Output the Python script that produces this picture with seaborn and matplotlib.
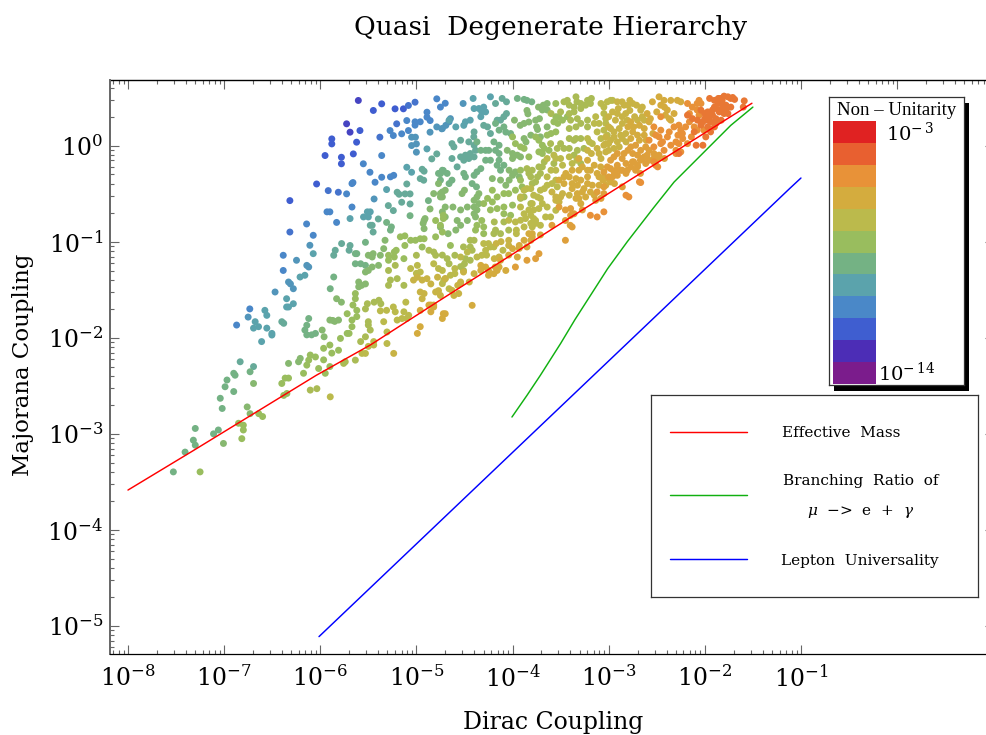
import numpy as np
import pandas as pd
import matplotlib
matplotlib.use("Agg")
import matplotlib.pyplot as plt
from matplotlib.colors import LinearSegmentedColormap
from matplotlib.patches import Rectangle
from matplotlib.ticker import LogLocator, NullFormatter, FixedLocator, FixedFormatter
import seaborn as sns

# ---- values: (log10 Dirac, log10 Majorana), grouped by non-unitarity colour level
nu_125 = [(-5.604,.469),(-5.726,.226),(-5.69,.139)]
nu_120 = [(-5.448,.365),(-5.361,.434),(-5.222,.382),(-5.135,.382),(-5.587,.156),(-5.622,.035),(-5.88,.069),(-5.88,.017),(-5.656,-.087),(-5.78,-.122),(-5.78,-.19),(-5.95,-.104),(-6.038,-.40),(-6.316,-.573)]
nu_115 = [(-5.083,.417),(-5.014,.451),(-5.205,.226),(-5.38,.087),(-5.917,-.469),(-5.812,-.486),(-6.316,-.90)]
nu_110 = [(-4.788,.486),(-4.75,.40),(-4.70,.44),(-4.89,.347),(-4.89,.295),(-4.857,.26),(-5.10,.26),(-5.014,.247),(-4.96,.247),(-5.014,.212),(-5.274,.156),(-5.24,.104),(-5.153,.122),(-5.083,.156),(-5.361,-.104),(-5.552,-.19),(-5.483,-.278),(-5.726,-.503),(-5.67,-.396),(-5.66,-.385),(-5.43,-.382),(-5.361,-.33),(-5.27,-.326),(-5.236,-.31),(-6.142,-.816),(-6.385,-1.142),(-6.385,-1.30),(-5.93,-.69),(-5.90,-.69),(-6.733,-1.70),(-6.87,-1.868),(-5.83,-.80),(-6.073,-.934),(-5.67,-.64)]
nu_105 = [(-5.05,.087),(-5.01,.087),(-4.858,.139),(-4.788,.194),(-4.736,.174),(-5.05,0),(-5.0,.017),(-5.0,-.069),(-4.646,.28),(-4.66,.247),(-4.694,.21),(-4.73,.177),(-6.108,-1.038),(-6.247,-1.194),(-6.14,-1.247),(-6.12,-1.264),(-6.47,-1.524),(-6.75,-1.785),(-6.33,-1.42),(-6.31,-1.44),(-6.28,-1.49),(-5.44,-.556),(-4.514,.4375)]
nu_100 = [(-4.66,.264),(-4.89,-.035),(-5.31,-.458),(-5.10,-.226),(-5.05,-.278),(-6.073,-1.125),(-6.21,-1.368),(-6.16,-1.35),(-6.35,-1.594),(-6.28,-1.646),(-6.35,-1.68),(-6.33,-1.68),(-6.576,-1.715),(-6.556,-1.767),(-5.69,-.76),(-5.55,-.743),(-5.51,-.69),(-5.48,-.69),(-5.5,-.743),(-6.677,-1.833),(-6.642,-1.885),(-6.694,-1.90),(-6.556,-1.90),(-6.503,-1.955),(-6.503,-1.972),(-6.61,-2.04),(-4.41,.49),(-4.4,.385),(-4.35,.385),(-4.3,.40),(-4.28,.35),(-4.32,.35),(-4.23,.507),(-4.59,.194),(-4.44,.264),(-4.49,.247),(-4.507,.21),(-4.33,.30)]
nu_095 = [(-4.84,-.139),(-4.788,-.087),(-4.94,-.247),(-4.92,-.267),(-4.96,-.344),(-4.924,-.361),(-5.10,-.40),(-5.2,-.486),(-5.18,-.507),(-5.118,-.503),(-5.066,-.503),(-5.48,-.83),(-5.46,-.83),(-5.45,-.90),(-5.153,-.59),(-5.066,-.608),(-5.292,-.625),(-5.24,-.677),(-5.778,-1.02),(-5.69,-1.04),(-5.7,-1.09),(-5.844,-1.09),(-5.86,-1.142),(-6.4,-1.833),(-6.38,-1.85),(-6.833,-2.25),(-4.177,.4375),(-4.108,.49),(-4.063,.455),(-4.3,.21),(-4.26,.194),(-4.23,.125),(-4.40,.142),(-4.403,.09),(-4.54,.055),(-4.63,.02),(-4.61,-.014),(-4.455,.038),(-4.4,.003),(-4.385,-.05),(-4.44,-.083),(-4.49,-.1),(-4.54,-.118),(-4.507,-.153),(-4.455,-.135),(-4.4,-.118),(-4.63,-.135),(-4.576,-.222),(-4.063,.333),(-4.09,.30),(-4.125,.264),(-4.16,.264),(-5.396,-.764),(-6.694,-2.3)]
nu_090 = [(-4.875,-.573),(-5.31,-.80),(-5.26,-.847),(-5.27,-.88),(-5.066,-.73),(-4.75,-.29),(-4.72,-.26),(-4.77,-.29),(-4.68,-.29),(-5.53,-1.007),(-5.635,-1.125),(-5.62,-1.125),(-5.86,-1.368),(-6.12,-1.80),(-6.14,-1.87),(-6.16,-1.92),(-6.14,-1.97),(-6.09,-1.97),(-6.05,-1.955),(-5.635,-1.23),(-5.58,-1.23),(-5.53,-1.247),(-5.896,-1.49),(-6.73,-2.354),(-6.9,-2.37),(-6.886,-2.39),(-6.97,-2.44),(-6.99,-2.51),(-6.9,-2.56),(-7.04,-2.63),(-7.02,-2.736),(-7.3,-2.944),(-7.32,-3.066),(-7.3,-3.118),(-7.406,-3.19),(-7.528,-3.396),(-4.37,.038),(-4.194,.038),(-4.14,.003),(-4.177,-.05),(-4.14,-.083),(-4.33,-.05),(-4.28,-.05),(-4.247,-.05),(-4.177,.23),(-4.14,.16),(-4.09,.194),(-4.07,.14),(-4.02,.125),(-4.28,-.153),(-4.23,-.153),(-4.14,-.153),(-4.16,-.205),(-4.09,-.205),(-4.125,-.257),(-4.33,-.24),(-4.37,-.274),(-4.4,-.31),(-4.507,-.29),(-4.49,-.326),(-4.42,-.396),(-4.375,-.43),(-4.73,-.257),(-4.75,-.29),(-4.75,-.36),(-4.63,-.36),(-4.66,-.396),(-3.95,.49),(-3.88,.48),(-3.85,.47),(-3.8,.455),(-7.06,-2.96),(-7.11,-3.0)]
nu_085 = [(-4.858,-.66),(-4.77,-.396),(-4.82,-.5),(-4.73,-.483),(-4.75,-.535),(-4.92,-.78),(-4.91,-.76),(-4.93,-.81),(-4.92,-.865),(-5.5,-1.142),(-5.45,-1.125),(-5.46,-1.16),(-5.326,-.986),(-5.34,-1.073),(-5.375,-1.142),(-6.694,-2.476),(-6.76,-2.72),(-6.73,-2.79),(-7.007,-3.1),(-5.98,-1.92),(-5.96,-1.99),(-5.9,-1.816),(-5.87,-1.82),(-5.85,-1.83),(-5.81,-1.816),(-6.208,-2.215),(-6.226,-2.25),(-6.33,-2.267),(-5.46,-1.264),(-5.5,-1.3),(-5.53,-1.316),(-5.394,-1.247),(-5.6,-1.42),(-5.53,-1.44),(-5.6,-1.47),(-5.57,-1.455),(-5.83,-1.594),(-5.78,-1.63),(-4.055,-.05),(-4,-.083),(-3.95,-.1),(-3.917,-.118),(-4,-.135),(-4.21,-.344),(-4.125,-.36),(-4.07,-.413),(-4.035,-.257),(-4,-.31),(-3.97,-.274),(-4.035,-.36),(-3.93,-.326),(-4.7,-.465),(-4.75,-.5),(-4.73,-.535),(-4.5,-.465),(-4.525,-.5),(-4.7,-.64),(-4.62,-.64),(-4.54,-.67),(-4.47,-.64),(-4.7,-.743),(-4.73,-.69),(-3.85,.365),(-3.84,.33),(-3.83,.245),(-3.88,.23),(-3.92,.21),(-3.98,.264),(-3.73,.40),(-3.68,.42),(-3.64,.4375),(-3.69,.37),(-3.64,.37),(-3.76,.264),(-3.72,.28),(-3.75,.194),(-3.74,.167),(-3.64,.194),(-3.71,.09),(-3.81,.108),(-3.88,.073),(-3.86,.038),(-4.37,-.535),(-4.4,-.57),(-4.35,-.604),(-4.4,-.64),(-4.35,-.5),(-4.4,-.71),(-4.37,-.67),(-4.385,-.743),(-4.576,-.78),(-4.59,-.88),(-4.54,-.83),(-4.47,-.78),(-4.75,-.85),(-4.67,-.917)]
nu_080 = [(-4.80,-.78),(-4.72,-.726),(-4.72,-.76),(-4.75,-.83),(-4.73,-.90),(-4.8,-.95),(-5.167,-.95),(-5.12,-.94),(-5.06,-.986),(-5.01,-.986),(-4.96,-.97),(-4.92,-.97),(-4.94,-1.056),(-5.12,-1.04),(-5.23,-1.108),(-5.21,-1.09),(-5.29,-1.142),(-5.29,-1.194),(-5.23,-1.16),(-5.13,-1.177),(-5.635,-1.54),(-5.635,-1.594),(-5.62,-1.715),(-5.72,-1.75),(-5.66,-1.66),(-6.64,-2.79),(-6.6,-2.82),(-6.85,-2.89),(-6.8,-2.91),(-6.8,-2.96),(-6.816,-3.05),(-7.25,-3.396),(-5.67,-1.816),(-5.62,-1.78),(-5.67,-1.885),(-5.72,-1.955),(-5.7,-1.955),(-5.79,-2.007),(-5.9,-2.076),(-5.965,-2.11),(-5.88,-2.16),(-5.81,-2.13),(-5.965,-2.23),(-5.9,-2.3),(-6.017,-2.32),(-5.948,-2.37),(-6.104,-2.18),(-6.05,-2.2),(-6.12,-2.233),(-6.14,-2.285),(-6.174,-2.37),(-6.365,-2.42),(-6.33,-2.42),(-6.4,-2.476),(-6.38,-2.6),(-6.347,-2.58),(-4.21,-.465),(-4.26,-.55),(-4.21,-.587),(-4.16,-.535),(-4.23,-.67),(-4.09,-.5),(-4.09,-.64),(-4,-.62),(-4.09,-.71),(-4.02,-.726),(-4.32,-.78),(-4.37,-.83),(-4.3,-.847),(-4.385,-.88),(-4.3,-.917),(-4.646,-1.04),(-3.55,.4375),(-3.55,.3),(-3.52,.3),(-3.57,.247),(-3.53,.23),(-3.48,.264),(-3.43,.3),(-3.55,.142),(-3.6,.125),(-3.64,.108),(-3.76,.09),(-3.726,.055),(-3.69,.003),(-3.67,-.03),(-3.726,-.066),(-3.69,-.083),(-3.62,-.05),
          (-4,.09),(-3.97,.02),(-3.917,-.014),(-3.88,-.03),(-3.83,-.118),(-3.917,-.257),(-3.917,-.36),(-4.04,-.5),(-3.97,-.465),(-3.9,-.43),(-4.3,-.604),(-4.16,-.656)]
nu_075 = [(-5.0,-1.142),(-4.87,-1.09),(-4.82,-1.108),(-4.8,-1.142),(-5.29,-1.3),(-5.22,-1.247),(-5.27,-1.40),(-5.2,-1.385),(-5.29,-1.455),(-5.13,-1.455),(-5.51,-1.646),(-5.44,-1.63),(-5.39,-1.61),(-5.37,-1.646),(-5.53,-1.70),(-6.104,-2.545),(-6.035,-2.53),(-5.757,-2.267),(-5.74,-2.25),(-5.635,-2.233),(-5.58,-2.04),(-5.53,-1.99),(-5.5,-1.833),(-5.5,-1.868),(-5.48,-1.92),(-3.917,-.55),(-3.88,-.535),(-3.81,-.604),(-4.19,-.795),(-4.09,-.795),(-4.177,-.88),(-4.125,-.917),(-4.194,-.917),(-4.04,-.88),(-4.51,-1.055),(-4.44,-.986),(-4.4,-.986),(-4.44,-1.055),(-4.42,-1.09),(-4.6,-1.142),(-4.68,-1.177),(-4.66,-1.23),(-4.73,-1.14),(-4.49,-1.177),(-4.5,-1.23),(-4.44,-1.194),(-4.51,-1.3),(-4.54,-1.26),(-3.465,.455),(-3.43,.47),(-3.41,.42),(-3.34,.507),(-3.33,.455),(-3.29,.4375),(-3.36,.4),(-3.22,.47),(-3.18,.49),(-3.24,.42),(-3.19,.4375),(-3.29,.385),(-3.41,.333),(-3.36,.35),(-3.396,.264),(-3.326,.28),(-3.29,.23),(-3.34,.194),(-3.41,.177),(-3.22,.194),(-3.535,-.03),(-3.465,-.03),(-3.41,-.03),(-3.326,-.05),(-3.36,.055),(-3.34,.073),(-3.41,.073),(-3.85,-.24),(-3.795,-.257),(-3.726,-.222),(-3.69,-.222),(-3.81,-.326),(-3.74,-.326),(-3.795,-.396),(-3.76,-.378),(-3.71,-.29),(-3.83,-.29),
          (-3.604,.02),(-3.5,.02),(-3.36,-.1),(-3.257,-.03),(-3.29,-.187),(-3.57,-.187),(-3.67,-.17),(-3.6,.333),(-3.5,.35),(-3.22,.264),(-3.29,.073)]
nu_070 = [(-5.06,-1.28),(-4.99,-1.247),(-4.96,-1.316),(-5,-1.33),(-4.77,-1.28),(-4.73,-1.3),(-4.82,-1.23),(-5.11,-1.63),(-5.24,-1.68),(-5.375,-1.72),(-5.31,-1.715),(-5.22,-1.73),(-5.13,-1.73),(-5.08,-1.767),(-5.2,-1.816),(-5.1,-1.8),(-5.15,-1.8),(-5.566,-2.163),(-5.53,-2.163),(-5.5,-2.09),(-5.444,-2.04),(-5.444,-2.076),(-5.306,-1.94),(-5.306,-2.06),(-5.34,-1.833),(-5.896,-2.615),(-3.96,-.88),(-3.96,-.917),(-3.88,-.847),(-3.81,-.81),(-3.76,-.78),(-4.37,-1.16),(-4.3,-1.02),(-4.25,-1.02),(-4.28,-1.09),(-4.23,-1.055),(-4.32,-1.142),(-4.27,-1.14),(-4.6,-1.28),(-4.6,-1.333),(-4.646,-1.35),(-4.7,-1.385),(-4.715,-1.4),(-4.73,-1.437),(-4.66,-1.49),(-3.22,.073),(-3.2,.038),(-3.17,.02),(-3.12,.142),(-3.05,.16),(-3.014,.108),(-3.08,.073),(-3.15,.23),(-3.1,.23),(-3.03,.23),(-3.05,.333),(-3.03,.28),(-3.135,.3),(-3.05,.4),(-2.98,.47),(-3.57,-.1),(-3.55,-.135),(-3.64,-.135),(-3.5,-.135),(-3.41,-.118),(-3.33,-.153),(-3.38,-.187),(-3.48,-.205),(-3.6,-.257),(-3.55,-.257),(-3.64,-.326),(-3.64,-.413),(-3.59,-.396),(-3.55,-.36),(-3.535,-.43),(-3.67,-.448),(-3.71,-.465),(-3.85,-.448),(-3.88,-.465),(-3.917,-.535),(-3.81,-.448),(-3.78,-.517),(-3.74,-.535),(-3.71,-.55),(-3.78,-.67),(-3.795,-.604),(-3.726,-.656),(-3.69,-.604),(-3.64,-.64),(-3.917,-.64),(-3.88,-.71),(-3.83,-.67),(-3.865,-.76),(-3.81,-.726),(-3.78,-.76),(-3.71,-.83),(-3.795,-.847),(-3.76,-.81),(-3.08,.4375),(-3.014,.455),(-2.96,.47),
          (-3.604,-.743),(-3.656,-.743),(-3.55,-.674),(-3.917,-.778),(-3.97,-.795),(-4.04,-.778),(-4.194,-1.055),(-4.1,-1.09),(-4.54,-1.16),(-4.47,-1.108)]
nu_065 = [(-5.03,-1.40),(-4.99,-1.37),(-4.94,-1.40),(-4.89,-1.385),(-4.85,-1.44),(-4.78,-1.37),(-4.7,-1.385),(-5.236,-2.163),(-4.96,-1.524),(-4.92,-1.54),(-4.94,-1.594),(-4.8,-1.524),(-4.77,-1.51),(-4.75,-1.56),(-4.17,-1.02),(-4.12,-1.0),(-4.04,-.986),(-4.14,-1.16),(-4.19,-1.177),(-4.04,-1.04),(-4.4,-1.333),(-4.51,-1.316),(-4.54,-1.42),(-4.57,-1.455),(-4.54,-1.437),(-4.63,-1.507),(-4.61,-1.56),(-4.56,-1.54),(-4.45,-1.42),(-3.22,-.05),(-3.18,-.083),(-3.12,-.03),(-3.05,.003),(-3,.02),(-3.1,-.083),(-3.03,-.066),(-3,-.05),(-3.08,-.135),(-3.59,-.483),(-3.55,-.535),(-3.5,-.535),(-3.55,-.57),(-3.516,-.587),(-3.48,-.5),(-3.41,-.517),(-2.91,.455),(-2.86,.455),(-2.9,.385),(-2.84,.42),(-2.78,.47),(-2.75,.4375),(-2.8,.42),(-2.71,.42),(-2.65,.40),(-2.96,.35),(-3,.3),(-2.91,.333),(-2.86,.3),(-2.78,.365),(-2.73,.3),(-3.03,.09),(-2.98,.177),(-2.945,.142),(-2.89,.177),(-2.875,.108),(-2.98,.055),(-2.91,.038),(-2.858,.073),(-2.82,.038),(-2.89,-.014),(-3.03,.02),(-2.945,-.03),
          (-3.0,.194),(-2.93,.264),(-2.858,.23),(-2.806,.264),(-2.667,.368),(-2.65,.3),(-2.63,.264),(-2.7,.264),(-2.823,.333),(-2.944,.09),(-2.823,.125)]
nu_060 = [(-4.96,-1.715),(-4.85,-1.66),(-4.82,-1.68),(-4.99,-1.955),(-4.96,-1.885),(-4.85,-1.73),(-4.87,-1.66),(-4.82,-1.66),(-4.73,-1.8),(-4.7,-1.75),(-4.72,-1.75),(-3.795,-.917),(-3.795,-.95),(-3.71,-.93),(-3.83,-.917),(-3.93,-1.04),(-3.93,-1.07),(-3.88,-.986),(-3.85,-1.055),(-4.04,-1.14),(-4,-1.073),(-4.33,-1.247),(-4.33,-1.3),(-4.28,-1.264),(-4.25,-1.3),(-4.18,-1.264),(-4.125,-1.194),(-4.14,-1.264),(-4.16,-1.3),(-4.25,-1.35),(-4.42,-1.663),(-3.446,-.29),(-3.41,-.326),(-3.34,-.344),(-3.29,-.36),(-3.22,-.326),(-3.465,-.396),(-3.38,-.396),(-3.325,-.413),(-3.22,-.396),(-3.22,-.257),(-3.31,-.257),(-3.38,-.257),(-3.12,-.29),(-3.1,-.326),(-3.05,-.326),(-3.01,-.344),(-3.06,-.36),(-2.98,-.378),(-2.94,-.396),(-3.03,-.413),(-3.326,-.5),(-3.274,-.483),(-3.31,-.55),(-3.34,-.55),(-3.24,-.535),(-3.19,-.483),(-3.15,-.517),(-3.29,-.604),(-2.58,.247),(-2.63,.177),(-2.68,.21),(-2.77,.247),(-2.74,.194),(-2.8,.194),(-2.63,.108),(-2.7,.108),(-2.75,.142),(-2.77,.073),(-2.68,.055),(-2.61,.055),(-2.54,.125),(-2.545,.455),(-2.476,.507),(-2.424,.47),(-2.354,.47),(-2.285,.47),(-2.458,.42),(-2.25,.455),(-2.42,.4),(-2.5,.35),(-2.39,.37),(-2.32,.333),(-2.37,.28),(-2.354,.264),(-2.41,.316),(-2.6,.333),(-2.566,.28),
          (-3.22,-.153),(-3.274,-.222),(-3.15,-.205),(-3.083,-.222),(-3.31,-.135),(-3.19,-.257),(-3.465,-.326),(-3.517,-.36),(-3.38,-.448),(-3.257,-.448),(-3.17,-.413),(-3.1,-.413),(-3.81,-.986),(-3.95,-1.16),(-4.07,-1.3),(-4.194,-1.333)]
nu_055 = [(-3.97,-1.264),(-3.85,-1.194),(-3.76,-1.177),(-3.725,-1.125),(-3.45,-.986),(-3.59,-.83),(-3.45,-.78),(-3.4,-.83),(-3.38,-.847),(-3.517,-.64),(-3.45,-.67),(-3.396,-.656),(-3.36,-.71),(-3.274,-.67),(-3.396,-.726),(-3.05,-.5),(-3.135,-.57),(-3.08,-.55),(-2.8,-.05),(-2.75,-.083),(-2.7,-.1),(-2.63,-.118),(-2.58,-.05),(-2.53,-.083),(-2.67,-.153),(-2.74,-.17),(-2.615,-.187),(-2.7,-.205),(-2.58,-.153),(-2.476,-.1),(-2.49,-.135),(-2.42,-.135),(-2.945,-.118),(-2.86,-.135),(-2.98,-.153),(-2.91,-.205),(-2.82,-.187),(-2.98,-.24),(-2.86,-.257),(-2.82,-.29),(-2.91,-.31),(-2.96,-.326),(-2.77,-.222),(-2.72,-.257),(-2.67,-.29),(-2.858,-.43),(-3.05,-.43),(-3.12,-.483),
          (-2.875,-.257),(-2.91,-.24),(-2.806,-.257),(-2.753,-.17),(-2.70,-.222),(-2.65,-.135),(-2.6,-.1),(-2.53,-.135),(-2.667,-.05),(-2.615,-.014),(-2.77,-.014),(-2.72,.003),(-2.91,-.083),(-2.84,-.083),(-3.014,-.222),(-3.05,-.274),(-2.944,-.274),(-3.0,-.326)]
nu_050 = [(-3.19,-.726),(-3.12,-.743),(-3.05,-.69),(-2.82,-.517),(-2.79,-.535),(-2.68,-.378),(-2.667,-.385),(-2.49,-.222),(-2.51,-.205),(-2.53,-.17),(-2.18,.4375),(-2.13,.4),(-2.06,.47),(-2.08,.4375),(-2.04,.4375),(-2.16,.333),(-2.08,.37),(-2.06,.316),(-2.16,.247),(-2.11,.194),(-2.2,.194),(-2.25,.16),(-2.08,.16),(-2.01,.16),(-2.28,.108),(-2.23,.073),(-2.14,.09),(-2.27,.02),(-2.18,.02),(-2.3,.038),(-2.53,.194),(-2.458,.16),(-2.51,.108),(-2.44,.038),(-2.458,.02),(-2.37,.142),(-2.3,-.05),(-2.25,-.066),(-2.3,-.083),
          (-2.458,.3),(-2.32,.194),(-2.27,.212),(-2.233,.125),(-2.389,.09),(-2.424,-.05),(-2.354,.003),(-2.476,.09),(-2.53,-.014),(-2.58,.055)]
nu_045 = [(-2.27,-.083),(-2.09,.003),(-2.02,.003),(-1.99,.09),(-1.9,.194),(-1.97,.194),(-1.95,.49),(-1.86,.49),(-1.8,.514),(-1.76,.507),(-1.71,.5),(-1.82,.47),(-1.86,.4375),(-1.78,.42),(-1.9,.4),(-1.69,.48),(-1.59,.465),(-1.6,.4),(-1.97,.35),(-1.92,.316),(-1.85,.35),(-1.8,.333),(-1.76,.333),(-1.885,.28),(-1.97,.264),(-2.02,.247),(-1.94,.247),(-1.83,.264),(-2.0,.333),(-2.0,.28),(-1.95,.3),(-1.86,.37),(-1.92,.37),(-1.82,.385),(-1.77,.4),(-1.9,.47),(-1.84,.49),(-1.73,.49),(-1.82,.4375),
          (-2.18,.316),(-2.128,.28),(-2.076,.264),(-2.04,.212),(-2.11,.142),(-1.94,.142),(-1.885,.23),(-2.04,.368),(-1.73,.4),(-1.78,.368)]

levels = [-12.5,-12,-11.5,-11,-10.5,-10,-9.5,-9,-8.5,-8,-7.5,-7,-6.5,-6,-5.5,-5,-4.5]
groups = [nu_125,nu_120,nu_115,nu_110,nu_105,nu_100,nu_095,nu_090,nu_085,nu_080,nu_075,nu_070,nu_065,nu_060,nu_055,nu_050,nu_045]

# curves (log10 Dirac, log10 Majorana)
mass_x = [-8,-7.33,-6.66,-6.04,-5.48,-4.755,-3.44,-2.67,-1.51]
mass_y = [-3.585,-3.18,-2.77,-2.39,-2.076,-1.61,-.775,-.29,.44]
br_x = [-4.006,-3.85,-3.71,-3.5,-3.35,-3.01,-2.806,-2.535,-2.32,-1.97,-1.73,-1.5]
br_y = [-2.825,-2.6,-2.39,-2.06,-1.81,-1.28,-1.0,-.65,-.38,-.03,.21,.40]
lu_x = [-6.013,-2.553,-1.115,-1.0]
lu_y = [-5.11,-1.816,-.445,-.338]

# colour bar: one band per decade, top to bottom
band_exponents = [-3,-4,-5,-6,-7,-8,-9,-10,-11,-12,-13,-14]
band_colors = ["#E02222","#E86030","#E89238","#D4AC3E","#BBBA4C","#99BD5E","#74B284","#5BA3AC","#4A88C8","#3F5ED0","#4C2DB6","#7B1C8C"]

legend_labels = ["Effective  Mass", "Branching  Ratio  of", "$\\mathit{\\mu}$  −>  e  +  $\\mathit{\\gamma}$", "Lepton  Universality"]
curve_colors = ["#FF0000", "#10B010", "#0000FF"]

# ---- style
W, H = 987, 735
sns.set_theme(style="ticks")
SERIF = "DejaVu Serif"
plt.rcParams["font.family"] = [SERIF, "Liberation Serif"]
plt.rcParams["mathtext.fontset"] = "custom"
plt.rcParams["mathtext.rm"] = SERIF
plt.rcParams["mathtext.it"] = SERIF + ":italic"
plt.rcParams["mathtext.default"] = "rm"
plt.rcParams["text.color"] = "black"

cmap = LinearSegmentedColormap.from_list("rainbow_nu", band_colors[::-1])

def px_axes(fig, x0, y0, x1, y1, **kw):
    return fig.add_axes([x0 / W, 1 - y1 / H, (x1 - x0) / W, (y1 - y0) / H], **kw)

fig = plt.figure(figsize=(W / 100, H / 100), dpi=100, facecolor="white")
ax = px_axes(fig, 110, 80, 994, 654)

rows = [(10.0 ** px, 10.0 ** py, lev) for lev, grp in zip(levels, groups) for px, py in grp]
df = pd.DataFrame(rows, columns=["dirac", "majorana", "nu"])

ax.set_xscale("log")
ax.set_yscale("log")
sns.scatterplot(data=df, x="dirac", y="majorana", hue="nu", palette=cmap, hue_norm=(-14, -3),
                s=25, linewidth=0, legend=False, ax=ax, zorder=2)
for xs, ys, c in zip((mass_x, br_x, lu_x), (mass_y, br_y, lu_y), curve_colors):
    sns.lineplot(x=10.0 ** np.array(xs), y=10.0 ** np.array(ys), sort=False, estimator=None,
                 color=c, linewidth=1.05, ax=ax, zorder=3, legend=False)

ax.set_xlim(10 ** -8.187, 10 ** 1.008)
ax.set_ylim(10 ** -5.291, 10 ** 0.682)

# bottom ticks stop at 10^-1
majors = [10.0 ** e for e in range(-8, 0)]
minors = [m * 10.0 ** e for e in range(-9, -1) for m in range(2, 10) if m * 10.0 ** e > 10 ** -8.187]
ax.xaxis.set_major_locator(FixedLocator(majors))
ax.xaxis.set_major_formatter(FixedFormatter([f"$10^{{{e}}}$" for e in range(-8, 0)]))
ax.xaxis.set_minor_locator(FixedLocator(minors))
ax.xaxis.set_minor_formatter(NullFormatter())
ymaj = [10.0 ** e for e in range(-5, 1)]
ax.yaxis.set_major_locator(FixedLocator(ymaj))
ax.yaxis.set_major_formatter(FixedFormatter([f"$10^{{{e}}}$" for e in range(-5, 1)]))
ax.yaxis.set_minor_locator(LogLocator(base=10, subs=range(2, 10), numticks=30))
ax.yaxis.set_minor_formatter(NullFormatter())

GREY = "#666666"
ax.tick_params(axis="both", which="major", direction="in", length=6.5, width=0.8, color=GREY,
               labelsize=17, labelcolor="black", top=False, right=True)
ax.tick_params(axis="x", which="major", pad=8)
ax.tick_params(axis="y", which="major", pad=5)
ax.tick_params(axis="both", which="minor", direction="in", length=3.2, width=0.8, color=GREY,
               top=False, right=True)
top = ax.secondary_xaxis("top")
top.xaxis.set_major_locator(LogLocator(base=10, numticks=30))
top.xaxis.set_minor_locator(LogLocator(base=10, subs=range(2, 10), numticks=30))
top.xaxis.set_major_formatter(NullFormatter())
top.xaxis.set_minor_formatter(NullFormatter())
top.tick_params(axis="x", which="major", direction="in", length=6.5, width=0.8, color=GREY)
top.tick_params(axis="x", which="minor", direction="in", length=3.2, width=0.8, color=GREY)
top.spines["top"].set_linewidth(1.0)
top.spines["top"].set_color("black")

ax.spines["left"].set_color(GREY)
ax.spines["left"].set_linewidth(1.4)
ax.spines["bottom"].set_color("black")
ax.spines["bottom"].set_linewidth(0.9)
ax.spines["top"].set_visible(False)
ax.spines["right"].set_visible(False)

ax.set_xlabel("Dirac Coupling", fontsize=17, va="center", color="black")
ax.xaxis.set_label_coords((553 - 110) / 884, (654 - 723) / 574)
ax.set_ylabel("Majorana Coupling", fontsize=16.5, va="center", color="black")
ax.yaxis.set_label_coords((23 - 110) / 884, (654 - 365) / 574)
ax.set_title("Quasi  Degenerate Hierarchy", fontsize=19, x=(551 - 110) / 884, y=(654 - 27) / 574,
             va="center", color="black", pad=0)

# ---- colour bar box with hard shadow
fig.add_artist(Rectangle((834 / W, 1 - 391 / H), 135 / W, 288 / H, transform=fig.transFigure,
                         facecolor="black", edgecolor="none", zorder=5))
box = px_axes(fig, 829, 97, 964, 385, zorder=6)
box.set_xticks([]); box.set_yticks([])
for s in box.spines.values():
    s.set_visible(True); s.set_linewidth(0.9); s.set_color("#333333")
box.text(0.5, 0.952, "Non – Unitarity", transform=box.transAxes, ha="center", va="center",
         fontsize=13.5, family=["Liberation Serif", SERIF], color="black")
box.text(0.42, 0.875, "$10^{-\\,3}$", transform=box.transAxes, ha="left", va="center", fontsize=14, color="black")
box.text(0.36, 0.04, "$10^{-\\,14}$", transform=box.transAxes, ha="left", va="center", fontsize=14, color="black")

bar = px_axes(fig, 833, 121, 876, 384, zorder=7)
sns.heatmap(np.array(band_exponents, dtype=float).reshape(-1, 1), ax=bar,
            cmap=LinearSegmentedColormap.from_list("bands", band_colors[::-1], N=12),
            vmin=-14.5, vmax=-2.5, cbar=False, xticklabels=False, yticklabels=False)

# ---- curve legend
leg = px_axes(fig, 651, 395, 978, 597, zorder=6)
leg.set_xlim(651, 978); leg.set_ylim(597, 395)
leg.set_xticks([]); leg.set_yticks([])
for s in leg.spines.values():
    s.set_visible(True); s.set_linewidth(0.9); s.set_color("#333333")
for yy, c in zip((432, 495, 559), curve_colors):
    leg.plot([670, 747], [yy, yy], color=c, lw=1.05)
for (xx, yy), t in zip(((841, 433), (861, 481), (861, 512), (860, 561)), legend_labels):
    leg.text(xx, yy, t, ha="center", va="center", fontsize=11, color="black")

fig.savefig("out.png", dpi=100, facecolor="white")
